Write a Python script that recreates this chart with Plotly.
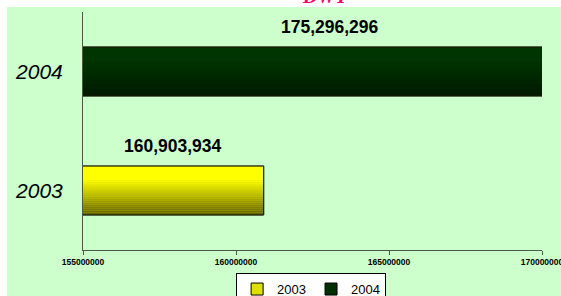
import plotly.graph_objects as go

# ---- data ----
categories = ["2003", "2004"]
dwt_values = [160903934, 175296296]
value_labels = ["160,903,934", "175,296,296"]
x_ticks = [155000000, 160000000, 165000000, 170000000]
x_range = [155000000, 170000000]
chart_title = "DWT"

# ---- styles ----
top_colors = {"2003": (255, 255, 0), "2004": (0, 52, 0)}
bottom_colors = {"2003": (96, 96, 0), "2004": (0, 24, 0)}
legend_colors = {"2003": "#E0E000", "2004": "#003000"}
BAR_W = 0.41
N = 24


def lerp(c1, c2, t):
    return tuple(int(round(a + (b - a) * t)) for a, b in zip(c1, c2))


def grad(cat, t):
    # t = 0 bottom, 1 top
    if t > 0.72:
        return top_colors[cat]
    return lerp(bottom_colors[cat], top_colors[cat], t / 0.72)


fig = go.Figure()

for cat, val in zip(categories, dwt_values):
    # base bar carrying the legend entry
    fig.add_trace(go.Bar(
        x=[val], y=[cat], orientation="h", name=cat,
        width=BAR_W, marker=dict(color=legend_colors[cat],
                                 line=dict(color="#000000", width=1)),
        showlegend=True, hoverinfo="skip",
    ))
    # gradient slices
    for i in range(N):
        t = (i + 0.5) / N
        c = grad(cat, t)
        fig.add_trace(go.Bar(
            x=[val], y=[cat], orientation="h",
            width=BAR_W / N * 1.1, offset=-BAR_W / 2 + i * BAR_W / N,
            marker=dict(color="rgb(%d,%d,%d)" % c, line=dict(width=0)),
            showlegend=False, hoverinfo="skip",
        ))
    # outline
    fig.add_trace(go.Bar(
        x=[val], y=[cat], orientation="h", width=BAR_W,
        marker=dict(color="rgba(0,0,0,0)", line=dict(color="#1a1a00", width=1)),
        showlegend=False, hoverinfo="skip",
    ))

# value labels above bars
label_shift = {"2003": 0, "2004": 17}
for idx, (cat, val, lab) in enumerate(zip(categories, dwt_values, value_labels)):
    vis_end = min(val, x_range[1])
    fig.add_annotation(
        x=(x_range[0] + vis_end) / 2, y=idx, xref="x", yref="y",
        text="<b>%s</b>" % lab, showarrow=False,
        xshift=label_shift[cat], yshift=45,
        font=dict(family="Liberation Sans, Arial", size=17.5, color="#000000"),
    )

# title (mostly cut off at top edge)
fig.add_annotation(
    x=0.527, y=1.0126, xref="paper", yref="paper", yanchor="bottom",
    text="<b><i>%s</i></b>" % chart_title, showarrow=False,
    font=dict(family="Liberation Serif, Times New Roman, serif", size=20, color="#FF0066"),
)

# green chart-area background (white border strip at top/left)
fig.add_shape(type="rect", xref="paper", yref="paper",
              x0=(7 - 83) / 459, x1=(562 - 83) / 459,
              y0=(250 - 297) / 238, y1=(250 - 7) / 238,
              fillcolor="#CCFFCC", line=dict(width=0), layer="below")

fig.update_layout(
    width=561, height=296,
    margin=dict(l=83, r=19, t=12, b=46, autoexpand=False),
    paper_bgcolor="#FFFFFF",
    plot_bgcolor="rgba(0,0,0,0)",
    barmode="overlay",
    showlegend=True,
    hovermode=False,
    legend=dict(orientation="h", x=0.497, xanchor="center", y=-0.097, yanchor="top",
                bgcolor="#FFFFFF", bordercolor="#000000", borderwidth=1,
                font=dict(family="Liberation Sans, Arial", size=13, color="#000000"),
                itemwidth=30, tracegroupgap=0),
    xaxis=dict(range=x_range, tickvals=x_ticks, tickformat="d",
               showgrid=False, zeroline=False, showline=True,
               linecolor="#4a5a4a", linewidth=1,
               ticks="outside", ticklen=4, tickcolor="#4a5a4a",
               ticklabeloverflow="allow",
               tickfont=dict(family="Liberation Sans, Arial", size=8.5,
                             color="#000000", weight="bold")),
    yaxis=dict(type="category", categoryorder="array", categoryarray=categories,
               range=[-0.5, 1.5], autorange=False,
               showgrid=False, zeroline=False, showline=True,
               linecolor="#4a5a4a", linewidth=1, ticks="",
               ticklabelstandoff=15,
               tickfont=dict(family="Liberation Sans, Arial", size=21,
                             color="#000000", style="italic")),
)

fig.write_html("out.html", config={"displayModeBar": False},
               post_script="document.body.style.margin='0';")
